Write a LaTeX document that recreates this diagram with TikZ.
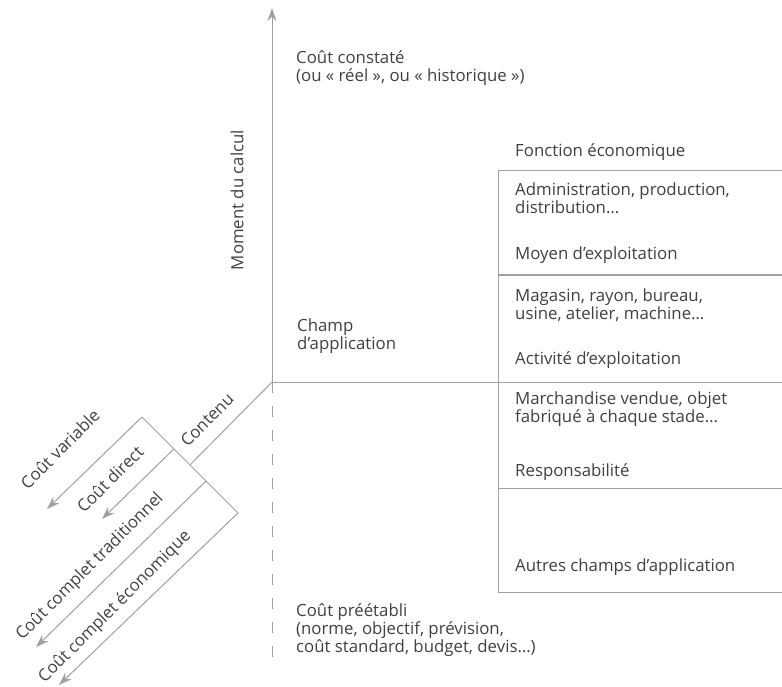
\documentclass[tikz,border=0pt]{standalone}
\usepackage{fontspec}
\setmainfont{Open Sans}
\usetikzlibrary{arrows.meta}
\usetikzlibrary{calc}
\usetikzlibrary{positioning}

\definecolor{traitgris}{HTML}{A0A0A0}
\definecolor{textegris}{HTML}{404040}

\tikzset{
  trait/.style={draw=traitgris, line width=1pt},
  fleche/.style={trait, -{Stealth[length=13pt,width=9pt,fill=traitgris]}},
  flechedroite/.style={trait, -{To[length=3pt,width=7pt]}},
  txt/.style={text=textegris, inner sep=0pt, align=left, anchor=west,
    font=\fontsize{16.8}{18}\selectfont},
  txtdiag/.style={text=textegris, inner sep=0pt, rotate=45,
    font=\fontsize{16.8}{18}\selectfont},
}

\begin{document}
\begin{tikzpicture}[x=1pt, y=-1pt]
  \useasboundingbox (0, 0) rectangle (782, 687);

  % axes
  \coordinate (O) at (272, 382);
  \coordinate (haut) at (272, 8);
  \coordinate (bas) at (272, 668);
  \draw[fleche] (O) -- (haut);
  \draw[trait, dash pattern=on 11pt off 13pt] (O) -- (bas);

  % champ d'application
  \coordinate (crochet haut) at (498, 171);
  \coordinate (crochet bas) at (498, 592);
  \draw[trait] (crochet haut) -- (crochet bas);
  \foreach \y in {171, 275, 488, 592} {
    \draw[flechedroite] (498, \y) -- (785, \y);
  }
  \draw[flechedroite] (O) -- (785, 382);

  % contenu
  \coordinate (B1) at (142, 417);
  \coordinate (B2) at (238, 513);
  \coordinate (Bm) at (190, 465);
  \draw[trait] (O) -- (Bm);
  \draw[trait] (B1) -- (B2);
  \draw[fleche] (B1) -- ++(-95, 92);
  \draw[fleche] ($(B1)!0.333!(B2)$) -- ++(-72, 70);
  \draw[fleche] ($(B1)!0.667!(B2)$) -- ++(-170, 166);
  \draw[fleche] (B2) -- ++(-179, 172);

  % textes
  \node[txt] (constate) at (296, 68) {Coût constaté\\(ou « réel », ou « historique »)};
  \node[txt, rotate=90, anchor=center] (moment) at (237, 200) {Moment du calcul};
  \node[txt] (champ) at (297, 336) {Champ\\d’application};
  \node[txt] (preetabli) at (296, 630) {Coût préétabli\\(norme, objectif, prévision,\\coût standard, budget, devis…)};

  \node[txt] (fonction) at (515, 152) {Fonction économique};
  \node[txt] (admin) at (515, 198) {Administration, production,\\distribution…};
  \node[txt] (moyen) at (515, 255) {Moyen d’exploitation};
  \node[txt] (magasin) at (515, 305) {Magasin, rayon, bureau,\\usine, atelier, machine…};
  \node[txt] (activite) at (515, 360) {Activité d'exploitation};
  \node[txt] (marchandise) at (515, 409) {Marchandise vendue, objet\\fabriqué à chaque stade…};
  \node[txt] (respons) at (515, 472) {Responsabilité};
  \node[txt] (autres) at (515, 567) {Autres champs d’application};

  \node[txtdiag] (contenu) at (207, 420) {Contenu};
  \node[txtdiag] (variable) at (60, 449) {Coût variable};
  \node[txtdiag] (direct) at (110, 479) {Coût direct};
  \node[txtdiag] (tradi) at (90, 567) {Coût complet traditionnel};
  \node[txtdiag] (eco) at (115, 607) {Coût complet économique};
\end{tikzpicture}
\end{document}
